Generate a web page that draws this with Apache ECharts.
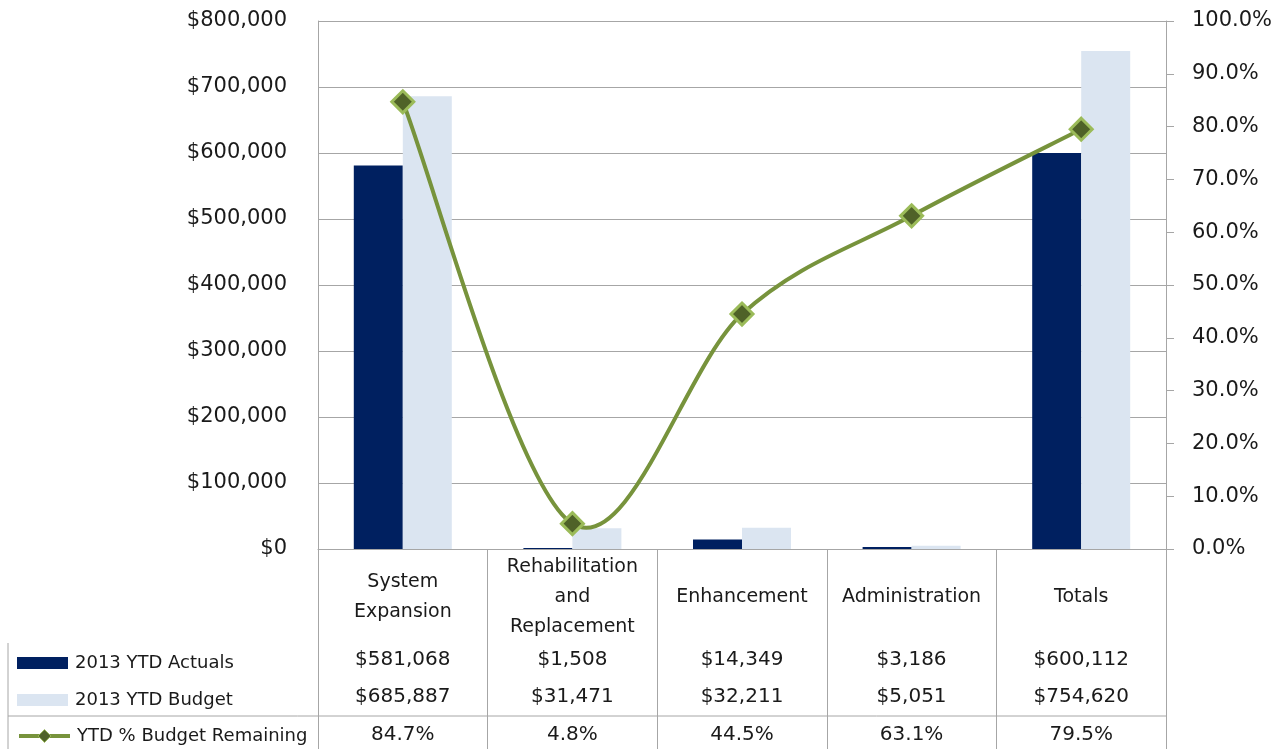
<!DOCTYPE html>
<html>
<head>
<meta charset="utf-8">
<script src="https://cdn.jsdelivr.net/npm/echarts@6/dist/echarts.min.js"></script>
<style>
html,body{margin:0;padding:0;background:#fff;}
#chart{width:1284px;height:749px;}
</style>
</head>
<body>
<div id="chart"></div>
<script>
const categories = ['System\nExpansion', 'Rehabilitation\nand\nReplacement', 'Enhancement', 'Administration', 'Totals'];
const actuals = [581068, 1508, 14349, 3186, 600112];
const budget = [685887, 31471, 32211, 5051, 754620];
const pctRemaining = [84.7, 4.8, 44.5, 63.1, 79.5];
const seriesNames = ['2013 YTD Actuals', '2013 YTD Budget', 'YTD % Budget Remaining'];

const FONT = 'DejaVu Sans';
const TXT = '#1a1a1a';
const GRID = '#a6a6a6';
const LINE_GREEN = '#77933C';
const money = v => '$' + Number(v).toLocaleString('en-US');
const pct = v => v.toFixed(1) + '%';

const rowAxis = (data, margin) => ({
  type: 'category', gridIndex: 0, position: 'bottom', data: data,
  axisLine: {show: false}, axisTick: {show: false}, splitLine: {show: false},
  axisLabel: {margin: margin, verticalAlign: 'middle', color: TXT, fontSize: 20, fontFamily: FONT, interval: 0}
});

const legendRow = (item, top, extra) => Object.assign({
  orient: 'horizontal', left: 17, top: top, padding: 0,
  itemWidth: 51, itemHeight: 12, data: [item],
  textStyle: {fontSize: 18, color: TXT, lineHeight: 12, fontFamily: FONT, padding: [0, 0, 0, 2]}
}, extra || {});

// Excel-style smoothed segment through the percentage points (uses axis coordinates)
function renderSmooth(params, api) {
  const i = params.dataIndex;
  const n = pctRemaining.length;
  if (i >= n - 1) return null;
  const P = j => {
    const k = Math.max(0, Math.min(n - 1, j));
    return api.coord([k, pctRemaining[k] / 100]);
  };
  const p0 = P(i - 1), p1 = P(i), p2 = P(i + 1), p3 = P(i + 2);
  const t = 1 / 6;
  return {
    type: 'bezierCurve',
    shape: {
      x1: p1[0], y1: p1[1], x2: p2[0], y2: p2[1],
      cpx1: p1[0] + (p2[0] - p0[0]) * t, cpy1: p1[1] + (p2[1] - p0[1]) * t,
      cpx2: p2[0] - (p3[0] - p1[0]) * t, cpy2: p2[1] - (p3[1] - p1[1]) * t
    },
    style: {stroke: LINE_GREEN, lineWidth: 4, fill: null, lineCap: 'round'}
  };
}

const chart = echarts.init(document.getElementById('chart'), null, {renderer: 'canvas'});
chart.setOption({
  animation: false,
  textStyle: {fontFamily: FONT},
  grid: [
    {left: 318, right: 118, top: 21, bottom: 200},
    {left: 318, right: 118, top: 549, bottom: 0}
  ],
  legend: [
    legendRow({name: seriesNames[0], icon: 'rect'}, 654),
    legendRow({name: seriesNames[1], icon: 'rect'}, 691),
    legendRow({name: seriesNames[2]}, 727, {
      itemHeight: 16,
      textStyle: {fontSize: 18, color: TXT, lineHeight: 16, fontFamily: FONT, padding: [0, 0, 0, 2]},
      lineStyle: {color: LINE_GREEN, width: 4, opacity: 1},
      itemStyle: {color: '#4F6228', borderColor: '#9BBB59', borderWidth: 1}
    })
  ],
  xAxis: [
    {
      type: 'category', gridIndex: 0, data: categories,
      axisLine: {show: true, lineStyle: {color: GRID, width: 1}},
      axisTick: {show: false},
      axisLabel: {margin: 48, verticalAlign: 'middle', lineHeight: 30, color: TXT, fontSize: 19, fontFamily: FONT, interval: 0}
    },
    rowAxis(actuals.map(money), 111),
    rowAxis(budget.map(money), 148),
    rowAxis(pctRemaining.map(pct), 186),
    {
      type: 'category', gridIndex: 1, data: categories,
      axisLine: {show: false}, axisTick: {show: false}, axisLabel: {show: false},
      splitLine: {show: true, lineStyle: {color: GRID, width: 1}}
    }
  ],
  yAxis: [
    {
      type: 'value', gridIndex: 0, position: 'left', min: 0, max: 800000, interval: 100000,
      axisLine: {show: true, lineStyle: {color: GRID, width: 1}},
      axisTick: {show: false},
      splitLine: {show: true, lineStyle: {color: GRID, width: 1}},
      axisLabel: {margin: 31, color: TXT, fontSize: 21, fontFamily: FONT, formatter: money}
    },
    {
      type: 'value', gridIndex: 0, position: 'right', min: 0, max: 1, interval: 0.1,
      axisLine: {show: true, lineStyle: {color: GRID, width: 1}},
      axisTick: {show: true, length: 8, lineStyle: {color: GRID}},
      splitLine: {show: false},
      axisLabel: {margin: 26, color: TXT, fontSize: 21, fontFamily: FONT, formatter: v => (v * 100).toFixed(1) + '%'}
    },
    {type: 'value', gridIndex: 1, show: false, min: 0, max: 1}
  ],
  series: [
    {
      name: seriesNames[0], type: 'bar', xAxisIndex: 0, yAxisIndex: 0, data: actuals,
      barWidth: 49, barGap: '0%', itemStyle: {color: '#002060'}
    },
    {
      name: seriesNames[1], type: 'bar', xAxisIndex: 0, yAxisIndex: 0, data: budget,
      barWidth: 49, barGap: '0%', itemStyle: {color: '#DBE5F1'}
    },
    {
      type: 'custom', xAxisIndex: 0, yAxisIndex: 1,
      data: pctRemaining.map((v, i) => [i, v / 100]),
      renderItem: renderSmooth, z: 4, silent: true
    },
    {
      name: seriesNames[2], type: 'line', xAxisIndex: 0, yAxisIndex: 1,
      data: pctRemaining.map(v => v / 100),
      lineStyle: {color: LINE_GREEN, width: 4, opacity: 0},
      symbol: 'diamond', symbolSize: 22, showSymbol: true,
      itemStyle: {color: '#4F6228', borderColor: '#9BBB59', borderWidth: 3},
      z: 5
    }
  ],
  graphic: [
    {type: 'line', shape: {x1: 8, y1: 716, x2: 1166, y2: 716}, style: {stroke: GRID, lineWidth: 1}},
    {type: 'line', shape: {x1: 8, y1: 643, x2: 8, y2: 749}, style: {stroke: GRID, lineWidth: 1}}
  ]
});
</script>
</body>
</html>
